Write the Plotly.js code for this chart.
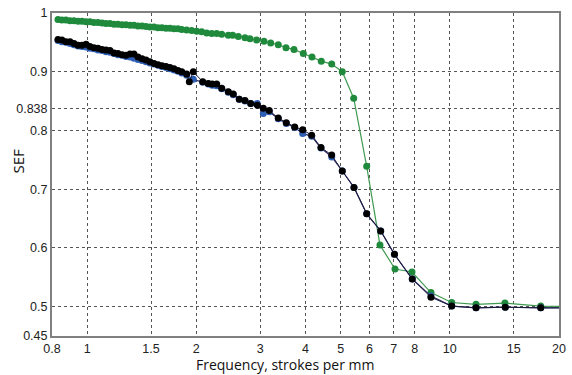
<!DOCTYPE html>
<html>
<head>
<meta charset="utf-8">
<script src="https://cdn.plot.ly/plotly-3.0.1.min.js"></script>
<style>html,body{margin:0;padding:0;background:#fff;}#chart{width:572px;height:375px;}</style>
</head>
<body>
<div id="chart"></div>
<script>
// Green series (frequency in strokes per mm, SEF)
const freqGreen = [0.831,0.852,0.874,0.897,0.920,0.944,0.968,0.993,1.018,1.044,1.071,1.099,1.127,1.156,1.186,1.216,1.248,1.280,1.313,1.346,1.381,1.417,1.453,1.490,1.529,1.568,1.608,1.650,1.692,1.736,1.780,
  1.823,1.881,1.942,2.005,2.069,2.136,2.205,2.276,2.350,2.450,2.519,2.611,2.724,2.812,2.934,3.073,3.207,3.365,3.534,3.718,3.944,4.168,4.422,4.724,5.052,5.432,5.899,6.418,7.060,7.864,8.872,10.12,11.81,14.19,17.81,21];
const sefGreen = [0.989,0.988,0.988,0.987,0.987,0.986,0.986,0.985,0.985,0.984,0.984,0.983,0.982,0.982,0.981,0.981,0.980,0.980,0.979,0.979,0.978,0.978,0.977,0.976,0.976,0.975,0.975,0.974,0.974,0.973,0.973,
  0.972,0.971,0.970,0.969,0.968,0.966,0.965,0.965,0.964,0.962,0.962,0.960,0.958,0.956,0.954,0.952,0.949,0.946,0.941,0.938,0.931,0.925,0.918,0.913,0.900,0.855,0.739,0.605,0.564,0.559,0.524,0.507,0.504,0.506,0.501,0.500];

// Blue series
const freqBlue = [0.831,0.852,0.874,0.897,0.920,0.944,0.968,0.993,1.018,1.044,1.071,1.099,1.127,1.156,1.186,1.216,1.248,1.280,1.313,1.346,1.381,1.417,1.453,1.490,1.529,1.568,1.608,1.650,1.692,1.736,1.780,
  1.823,1.881,1.962,2.083,2.158,2.213,2.276,2.350,2.450,2.529,2.627,2.724,2.824,2.945,3.060,3.178,3.365,3.541,3.735,3.929,4.160,4.413,4.724,5.052,5.442,5.899,6.447,7.037,7.879,8.872,10.12,11.81,14.22,17.81,21];
const sefBlue = [0.953,0.951,0.950,0.948,0.946,0.944,0.943,0.942,0.940,0.939,0.937,0.936,0.934,0.933,0.931,0.929,0.928,0.926,0.925,0.923,0.921,0.919,0.917,0.915,0.913,0.911,0.909,0.907,0.905,0.903,0.901,
  0.898,0.894,0.887,0.882,0.879,0.877,0.876,0.871,0.865,0.861,0.853,0.850,0.846,0.846,0.829,0.832,0.820,0.812,0.805,0.795,0.790,0.770,0.755,0.731,0.703,0.658,0.629,0.589,0.547,0.518,0.501,0.498,0.499,0.498,0.498];

// Black series
const freqBlack = [0.831,0.852,0.874,0.897,0.920,0.944,0.968,0.993,1.018,1.044,1.071,1.099,1.127,1.156,1.186,1.216,1.248,1.280,1.313,1.346,1.381,1.417,1.453,1.490,1.529,1.568,1.608,1.650,1.692,1.736,1.780,
  1.823,1.881,1.913,1.962,2.083,2.158,2.213,2.276,2.350,2.450,2.529,2.627,2.724,2.824,2.945,3.060,3.178,3.365,3.541,3.735,3.929,4.160,4.413,4.724,5.052,5.442,5.899,6.447,7.037,7.879,8.872,10.12,11.81,14.22,17.81,21];
const sefBlack = [0.955,0.954,0.951,0.951,0.948,0.945,0.945,0.947,0.943,0.941,0.940,0.938,0.937,0.936,0.932,0.931,0.929,0.928,0.930,0.930,0.925,0.922,0.920,0.917,0.914,0.912,0.910,0.909,0.907,0.905,0.902,
  0.900,0.896,0.883,0.900,0.883,0.880,0.879,0.879,0.872,0.866,0.862,0.853,0.851,0.846,0.843,0.838,0.834,0.821,0.813,0.806,0.801,0.792,0.771,0.758,0.731,0.703,0.658,0.629,0.589,0.547,0.516,0.501,0.498,0.499,0.498,0.498];

const xTicks = [0.8,1,1.5,2,3,4,5,6,7,8,10,15,20];
const xTickText = ['0.8','1','1.5','2','3','4','5','6','7','8','10','15','20'];
const yTicks = [0.45,0.5,0.6,0.7,0.8,0.838,0.9,1];
const yTickText = ['0.45','0.5','0.6','0.7','0.8','0.838','0.9','1'];

const traces = [
  {x: freqGreen, y: sefGreen, type: 'scatter', mode: 'lines+markers',
   line: {color: '#3f9a50', width: 1.2}, marker: {color: '#1f8a3c', size: 7}},
  {x: freqBlue, y: sefBlue, type: 'scatter', mode: 'lines+markers',
   line: {color: '#2a2a66', width: 1.2}, marker: {color: '#2f5fb5', size: 7}},
  {x: freqBlack, y: sefBlack, type: 'scatter', mode: 'lines+markers',
   line: {color: '#1c1c3c', width: 1}, marker: {color: '#000000', size: 7}}
];

const axisCommon = {
  showline: true, mirror: true, linecolor: '#808080', linewidth: 2,
  showgrid: true, gridcolor: '#555', griddash: 'dot', gridwidth: 1,
  zeroline: false, ticks: '',
  tickfont: {family: 'Liberation Sans, Arial, sans-serif', size: 12.5, color: '#222'}
};

const layout = {
  width: 572, height: 375,
  margin: {l: 52, r: 13, t: 13, b: 39},
  paper_bgcolor: '#fff', plot_bgcolor: '#fff',
  showlegend: false,
  xaxis: Object.assign({}, axisCommon, {
    type: 'log', range: [Math.log10(0.8), Math.log10(20)],
    tickvals: xTicks, ticktext: xTickText, ticklabelstandoff: 0
  }),
  yaxis: Object.assign({}, axisCommon, {
    range: [0.45, 1], tickvals: yTicks, ticktext: yTickText
  }),
  annotations: [
    {text: 'Frequency, strokes per mm', xref: 'paper', yref: 'paper', x: 0.46, y: 0,
     xanchor: 'center', yanchor: 'middle', yshift: -28, showarrow: false,
     font: {family: 'Open Sans, sans-serif', size: 14, color: '#111'}},
    {text: 'SEF', xref: 'paper', yref: 'paper', x: 0, y: 0.54,
     xanchor: 'center', yanchor: 'middle', xshift: -34, textangle: -90, showarrow: false,
     font: {family: 'Open Sans, sans-serif', size: 15, color: '#111'}}
  ]
};

Plotly.newPlot('chart', traces, layout, {displayModeBar: false, staticPlot: true});
</script>
</body>
</html>
